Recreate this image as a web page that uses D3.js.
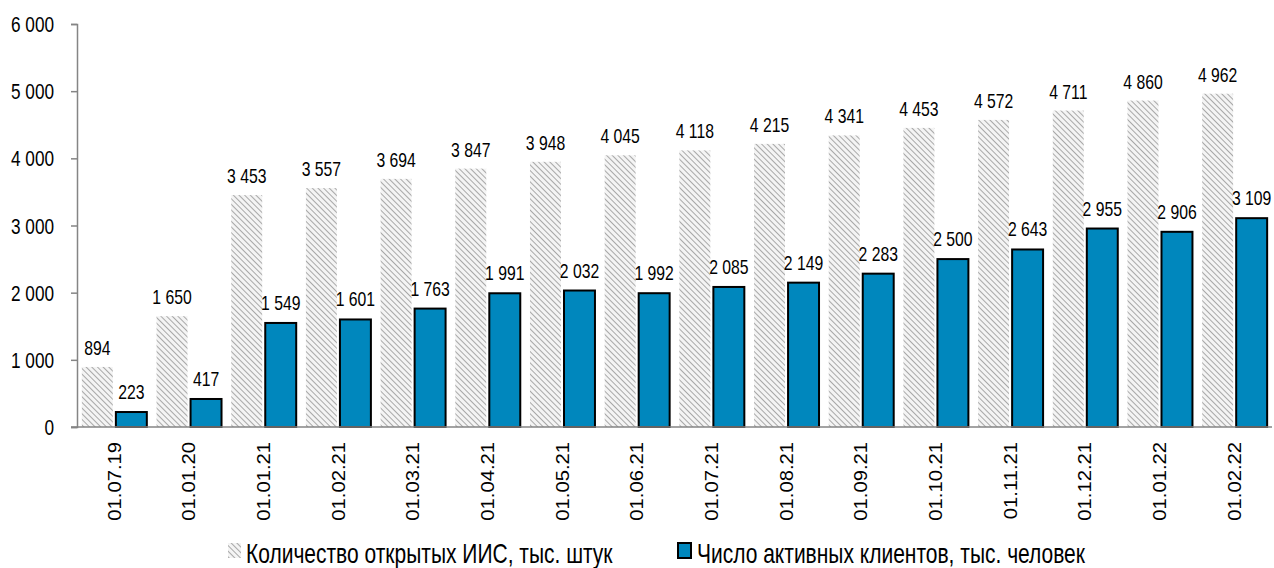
<!DOCTYPE html>
<html>
<head>
<meta charset="utf-8">
<script src="https://cdn.jsdelivr.net/npm/d3@7"></script>
<style>
  body { margin: 0; background: #fff; }
  svg text { font-family: "Liberation Sans", Arial, sans-serif; fill: #000; }
</style>
</head>
<body>
<svg id="chart" width="1274" height="568"></svg>
<script>
// dates on the x axis
const categories = ["01.07.19", "01.01.20", "01.01.21", "01.02.21", "01.03.21", "01.04.21", "01.05.21",
  "01.06.21", "01.07.21", "01.08.21", "01.09.21", "01.10.21", "01.11.21", "01.12.21", "01.01.22", "01.02.22"];
// opened IIS accounts, thousands
const openedIIS = [894, 1650, 3453, 3557, 3694, 3847, 3948, 4045, 4118, 4215, 4341, 4453, 4572, 4711, 4860, 4962];
// active clients, thousands
const activeClients = [223, 417, 1549, 1601, 1763, 1991, 2032, 1992, 2085, 2149, 2283, 2500, 2643, 2955, 2906, 3109];
const yTicks = [0, 1000, 2000, 3000, 4000, 5000, 6000];
const seriesNames = ["Количество открытых ИИС, тыс. штук", "Число активных клиентов, тыс. человек"];

const margin = { left: 77, right: 2, top: 24, bottom: 141 };
const W = 1274, H = 568;

const svg = d3.select("#chart");

// hatch pattern for the first series
const defs = svg.append("defs");
const pat = defs.append("pattern")
    .attr("id", "hatch")
    .attr("patternUnits", "userSpaceOnUse")
    .attr("width", 4).attr("height", 4)
    .attr("patternTransform", "rotate(45)");
pat.append("rect").attr("width", 4).attr("height", 4).attr("fill", "#f4f4f4");
pat.append("line").attr("x1", 0).attr("y1", 0).attr("x2", 4).attr("y2", 0)
    .attr("stroke", "#888").attr("stroke-width", 1.4);

const x = d3.scaleBand()
    .domain(categories)
    .range([margin.left, W - margin.right])
    .paddingInner(0.13).paddingOuter(0.065);

const xs = d3.scaleBand()
    .domain([0, 1])
    .range([0, x.bandwidth()])
    .paddingInner(0.09);

const y = d3.scaleLinear()
    .domain([0, 6000])
    .range([H - margin.bottom, margin.top]);

fmt = v => d3.format(",")(v).replace(/,/g, " ");

// y axis
const yAxis = svg.append("g")
    .attr("transform", "translate(" + margin.left + ",0)")
    .call(d3.axisLeft(y).tickValues(yTicks).tickSize(6).tickPadding(12).tickFormat(fmt));
yAxis.select(".domain").attr("stroke", "#858585").attr("stroke-width", 1.5);
yAxis.selectAll(".tick line").attr("stroke", "#858585").attr("stroke-width", 1.5);
yAxis.selectAll(".tick text").attr("font-size", 21.5).attr("fill", "#000")
    .attr("dy", "0.35em")
    .attr("x", 0)
    .attr("transform", "translate(-23,0) scale(0.8,1)");

// bars
const groups = svg.append("g").selectAll("g")
    .data(categories)
    .enter().append("g")
    .attr("transform", d => "translate(" + x(d) + ",0)");

groups.append("rect")
    .attr("x", xs(0))
    .attr("width", xs.bandwidth())
    .attr("y", (d, i) => y(openedIIS[i]))
    .attr("height", (d, i) => y(0) - y(openedIIS[i]))
    .attr("fill", "url(#hatch)");

groups.append("rect")
    .attr("x", xs(1))
    .attr("width", xs.bandwidth())
    .attr("y", (d, i) => y(activeClients[i]))
    .attr("height", (d, i) => y(0) - y(activeClients[i]))
    .attr("fill", "#0087bd")
    .attr("stroke", "#000")
    .attr("stroke-width", 2);

// value labels (squeezed horizontally like the original narrow font)
groups.append("text")
    .attr("text-anchor", "middle")
    .attr("font-size", 21)
    .attr("transform", (d, i) => "translate(" + (xs(0) + xs.bandwidth() / 2) + "," + (y(openedIIS[i]) - 12) + ") scale(0.75,1)")
    .text((d, i) => fmt(openedIIS[i]));

groups.append("text")
    .attr("text-anchor", "middle")
    .attr("font-size", 21)
    .attr("transform", (d, i) => "translate(" + (xs(1) + xs.bandwidth() / 2) + "," + (y(activeClients[i]) - 13) + ") scale(0.75,1)")
    .text((d, i) => fmt(activeClients[i]));

// x axis
const xAxis = svg.append("g")
    .attr("transform", "translate(0," + y(0) + ")")
    .call(d3.axisBottom(x).tickSize(0).tickPadding(0));
xAxis.select(".domain").attr("stroke", "#858585").attr("stroke-width", 1.5)
    .attr("d", "M" + (margin.left - 6) + ",0H" + (W - margin.right));
xAxis.selectAll(".tick text")
    .attr("font-size", 17.6)
    .attr("fill", "#000")
    .attr("text-anchor", "end")
    .attr("dy", "0.35em")
    .attr("x", 0)
    .attr("y", 0)
    .attr("transform", "translate(0,15) rotate(-90) scale(1.15,1)");

// legend
const legend = svg.append("g");
legend.append("rect").attr("x", 228).attr("y", 543).attr("width", 13).attr("height", 15)
    .attr("fill", "url(#hatch)");
legend.append("text").attr("font-size", 28).text(seriesNames[0])
    .attr("transform", "translate(246,563) scale(0.75,1)");
legend.append("rect").attr("x", 678).attr("y", 543).attr("width", 13).attr("height", 15)
    .attr("fill", "#0087bd").attr("stroke", "#000").attr("stroke-width", 2);
legend.append("text").attr("font-size", 28).text(seriesNames[1])
    .attr("transform", "translate(697,563) scale(0.75,1)");
</script>
</body>
</html>
